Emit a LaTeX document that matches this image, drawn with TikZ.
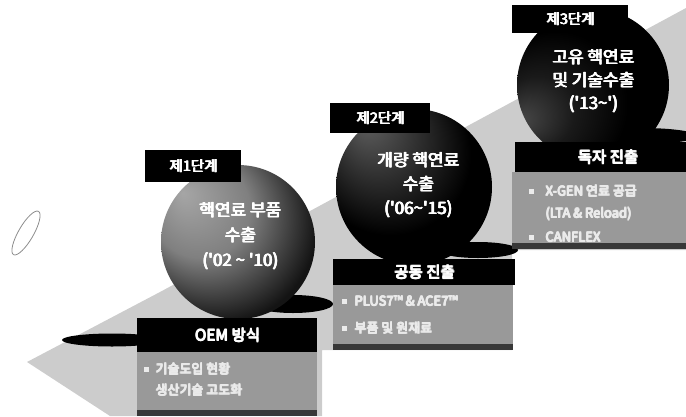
\documentclass[tikz,border=0pt]{standalone}
\usepackage{fontspec}
\newfontfamily\kr{Noto Sans CJK KR}
\newcommand\heavy[1]{\rlap{\hspace{0.9pt}#1}\rlap{\raisebox{0.6pt}{#1}}\rlap{\hspace{0.9pt}\raisebox{0.6pt}{#1}}\rlap{\hspace{0.45pt}\raisebox{0.3pt}{#1}}#1\hspace{0.9pt}}
\usetikzlibrary{shapes.geometric}
\pgfdeclareradialshading{sphA}{\pgfpoint{-18bp}{16bp}}{color(0bp)=(black!35); color(16bp)=(black!50); color(32bp)=(black!92); color(50bp)=(black)}
\pgfdeclareradialshading{sphB}{\pgfpoint{-16bp}{22bp}}{color(0bp)=(black!62); color(12bp)=(black!80); color(26bp)=(black); color(50bp)=(black)}
\pgfdeclareradialshading{sphC}{\pgfpoint{-24bp}{-12bp}}{color(0bp)=(black!72); color(12bp)=(black!90); color(24bp)=(black); color(50bp)=(black)}
\tikzset{
  lblbox/.style={fill=black, text=white, inner sep=0, anchor=north west,
    font=\kr\fontsize{14.5}{16}\selectfont},
  hdrbox/.style={fill=black, text=white, inner sep=0, anchor=north west,
    font=\kr\fontsize{15.5}{17}\selectfont},
  panelbox/.style={fill=black!40, inner sep=0, anchor=north west},
  stripbox/.style={fill=black!78, inner sep=0, anchor=north west},
  ctext/.style={text=white, align=center, inner sep=0},
  ptext/.style={text=white!92!black, anchor=west, inner sep=0,
    font=\kr\fontsize{13}{15}\selectfont},
  bul/.style={fill=white!92!black, minimum size=5pt, inner sep=0},
  shade1/.style={fill=black},
  band/.style={fill=black!20},
}
\begin{document}
\begin{tikzpicture}[x=1pt,y=-1pt]
\useasboundingbox (0,0) rectangle (686,416);
\clip (0,0) rectangle (686,416);

% background ramp
\fill[band] (27,362) -- (160,292) -- (686,8) -- (686,250) -- (512,250) -- (512,350)
  -- (322,350) -- (322,416) -- (110,416) -- cycle;

% small ellipse outline at left
\node[draw=black!45, ellipse, minimum width=50pt, minimum height=15pt, rotate=60, line width=0.8pt] (ring) at (26,233) {};

% shadows
\node[shade1, ellipse, minimum width=100pt, minimum height=13pt, inner sep=0] (sh0) at (112,340) {};
\node[shade1, ellipse, minimum width=80pt, minimum height=18pt, inner sep=0] (sh1) at (293,304) {};
\node[shade1, ellipse, minimum width=80pt, minimum height=16pt, inner sep=0] (sh2) at (478,250) {};
\node[shade1, ellipse, minimum width=110pt, minimum height=16pt, inner sep=0] (sh3) at (642,136) {};

% spheres
\node[circle, minimum size=154pt, inner sep=0, shading=sphA] (c1) at (238,242) {};
\node[circle, minimum size=156pt, inner sep=0, shading=sphB] (c2) at (414,187) {};
\node[circle, minimum size=152pt, inner sep=0, shading=sphC] (c3) at (593,85) {};

% sphere texts
\node[ctext, font=\kr\fontsize{17}{25}\selectfont] (t1) at (240,236) {\heavy{핵연료 부품}\\\heavy{수출}\\\heavy{('02 \textasciitilde\ '10)}};
\node[ctext, font=\kr\fontsize{17}{24}\selectfont] (t2) at (418,185) {\heavy{개량 핵연료}\\\heavy{수출}\\\heavy{('06\textasciitilde'15)}};
\node[ctext, font=\kr\fontsize{17}{23}\selectfont] (t3) at (593,81) {\heavy{고유 핵연료}\\\heavy{및 기술수출}\\\heavy{('13\textasciitilde')}};

% stage labels
\node[lblbox, minimum width=96pt, minimum height=32pt] (l1) at (145,150) {\heavy{제1단계}};
\node[lblbox, minimum width=100pt, minimum height=30pt] (l2) at (330,103) {\heavy{제2단계}};
\node[lblbox, minimum width=116pt, minimum height=28pt] (l3) at (512,5) {\heavy{제3단계}};

% panels
\node[panelbox, minimum width=180pt, minimum height=64pt] (p1) at (137,352) {};
\node[stripbox, minimum width=180pt, minimum height=6pt] (s1) at (137,410) {};
\node[panelbox, minimum width=180pt, minimum height=65pt] (p2) at (333,285) {};
\node[stripbox, minimum width=180pt, minimum height=6pt] (s2) at (333,344) {};
\node[panelbox, minimum width=176pt, minimum height=77pt] (p3) at (512,172) {};
\node[stripbox, minimum width=176pt, minimum height=6pt] (s3) at (512,243) {};

% headers
\node[hdrbox, minimum width=180pt, minimum height=34pt] (h1) at (137,318) {\heavy{OEM 방식}};
\node[hdrbox, minimum width=182pt, minimum height=26pt] (h2) at (333,259) {\heavy{공동 진출}};
\node[hdrbox, minimum width=171pt, minimum height=30pt] (h3) at (515,142) {\hspace*{14pt}\heavy{독자 진출}};

% panel 1 bullets
\node[bul] (b11) at (146,369) {};
\node[ptext] (x11) at (155,369) {\heavy{기술도입 현황}};
\node[ptext] (x12) at (155,390) {\heavy{생산기술 고도화}};

% panel 2 bullets
\node[bul] (b21) at (344,301) {};
\node[ptext] (x21) at (354,301) {\heavy{PLUS7™ \& ACE7™}};
\node[bul] (b22) at (344,328) {};
\node[ptext] (x22) at (354,328) {\heavy{부품 및 원재료}};

% panel 3 bullets
\node[bul] (b31) at (531,191) {};
\node[ptext] (x31) at (545,191) {\heavy{X-GEN 연료 공급}};
\node[ptext] (x32) at (545,214) {\heavy{(LTA \& Reload)}};
\node[bul] (b32) at (531,237) {};
\node[ptext] (x33) at (545,237) {\heavy{CANFLEX}};
\end{tikzpicture}
\end{document}
